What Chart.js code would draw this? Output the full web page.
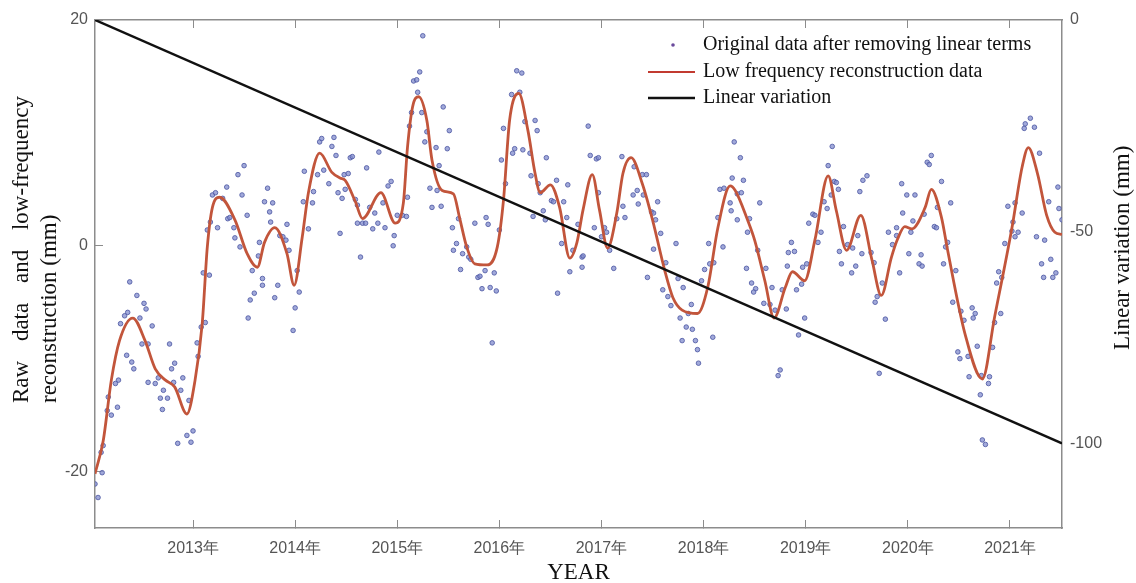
<!DOCTYPE html>
<html>
<head>
<meta charset="utf-8">
<script src="https://cdn.jsdelivr.net/npm/chart.js@4"></script>
<style>
  html, body { margin: 0; padding: 0; background: #fff; }
  canvas { display: block; }
</style>
</head>
<body>
<canvas id="chart" width="1136" height="583"></canvas>
<script>
// tick labels
const yearTicks = [2013, 2014, 2015, 2016, 2017, 2018, 2019, 2020, 2021];
const leftTicks = [20, 0, -20];
const rightTicks = [0, -50, -100];

// original data after removing linear terms (year, mm)
const scatterYears = [
  2012.07, 2012.04, 2012.11, 2012.12, 2012.10, 2012.17, 2012.16, 2012.26, 2012.20, 2012.27, 2012.24, 2012.29,
  2012.33, 2012.36, 2012.38, 2012.45, 2012.52, 2012.54, 2012.48, 2012.60, 2012.35, 2012.40, 2012.42, 2012.50,
  2012.56, 2012.56, 2012.63, 2012.66, 2012.71, 2012.68, 2012.75, 2012.70, 2012.77, 2012.79, 2012.82, 2012.81,
  2012.88, 2012.90, 2012.85, 2012.94, 2013.00, 2012.98, 2012.96, 2013.04, 2013.05, 2013.08, 2013.12, 2013.10,
  2013.16, 2013.14, 2013.17, 2013.19, 2013.22, 2013.24, 2013.29, 2013.33, 2013.34, 2013.36, 2013.40, 2013.41,
  2013.46, 2013.44, 2013.50, 2013.48, 2013.53, 2013.58, 2013.56, 2013.60, 2013.54, 2013.65, 2013.64, 2013.68,
  2013.68, 2013.70, 2013.73, 2013.78, 2013.75, 2013.76, 2013.83, 2013.80, 2013.85, 2013.88, 2013.91, 2013.92,
  2013.94, 2014.02, 2014.04, 2014.00, 2013.98, 2014.09, 2014.08, 2014.13, 2014.17, 2014.18, 2014.22, 2014.24,
  2014.26, 2014.28, 2014.33, 2014.36, 2014.38, 2014.40, 2014.42, 2014.44, 2014.46, 2014.49, 2014.48, 2014.52,
  2014.54, 2014.56, 2014.59, 2014.61, 2014.61, 2014.64, 2014.66, 2014.69, 2014.70, 2014.73, 2014.76, 2014.78,
  2014.81, 2014.82, 2014.86, 2014.88, 2014.91, 2014.94, 2014.97, 2014.96, 2015.00, 2015.05, 2015.09, 2015.10,
  2015.12, 2015.14, 2015.16, 2015.20, 2015.22, 2015.25, 2015.27, 2015.19, 2015.24, 2015.29, 2015.45, 2015.51,
  2015.49, 2015.38, 2015.41, 2015.32, 2015.39, 2015.34, 2015.43, 2015.54, 2015.60, 2015.58, 2015.55, 2015.64,
  2015.62, 2015.70, 2015.72, 2015.68, 2015.76, 2015.79, 2015.81, 2015.83, 2015.86, 2015.87, 2015.89, 2015.91,
  2015.95, 2015.97, 2015.93, 2016.00, 2016.02, 2016.04, 2016.06, 2016.12, 2016.13, 2016.15, 2016.17, 2016.22,
  2016.20, 2016.23, 2016.25, 2016.30, 2016.35, 2016.37, 2016.31, 2016.38, 2016.40, 2016.43, 2016.33, 2016.46,
  2016.45, 2016.51, 2016.53, 2016.56, 2016.63, 2016.66, 2016.67, 2016.61, 2016.57, 2016.69, 2016.72, 2016.77,
  2016.81, 2016.82, 2016.87, 2016.89, 2016.95, 2016.97, 2016.97, 2016.93, 2017.03, 2017.05, 2017.00, 2017.08,
  2017.12, 2016.81, 2017.20, 2017.23, 2017.21, 2017.15, 2017.32, 2017.31, 2017.35, 2017.36, 2017.40, 2017.44,
  2017.41, 2017.49, 2017.51, 2017.53, 2017.55, 2017.58, 2017.51, 2017.45, 2017.63, 2017.73, 2017.60, 2017.65,
  2017.68, 2017.75, 2017.80, 2017.77, 2017.85, 2017.88, 2017.83, 2017.89, 2017.79, 2017.92, 2017.94, 2017.95,
  2018.09, 2017.98, 2018.01, 2018.06, 2018.10, 2018.05, 2018.14, 2018.19, 2018.16, 2018.20, 2018.28, 2018.30,
  2018.36, 2018.26, 2018.27, 2018.33, 2018.37, 2018.39, 2018.33, 2018.55, 2018.45, 2018.43, 2018.53, 2018.42,
  2018.47, 2018.51, 2018.49, 2018.61, 2018.67, 2018.59, 2018.65, 2018.70, 2018.77, 2018.81, 2018.99, 2018.93,
  2018.75, 2018.73, 2018.82, 2018.83, 2018.86, 2018.89, 2018.91, 2018.96, 2018.97, 2019.01, 2019.03, 2019.07,
  2019.09, 2019.12, 2019.15, 2019.18, 2019.21, 2019.22, 2019.26, 2019.25, 2019.28, 2019.30, 2019.32, 2019.37,
  2019.33, 2019.35, 2019.41, 2019.46, 2019.51, 2019.45, 2019.49, 2019.55, 2019.53, 2019.56, 2019.60, 2019.64,
  2019.67, 2019.70, 2019.68, 2019.75, 2019.78, 2019.72, 2019.81, 2019.85, 2019.89, 2019.92, 2019.95, 2019.94,
  2019.89, 2019.99, 2020.07, 2020.01, 2020.03, 2020.05, 2020.13, 2020.11, 2020.14, 2020.16, 2020.19, 2020.21,
  2020.23, 2020.33, 2020.26, 2020.28, 2020.29, 2020.42, 2020.39, 2020.37, 2020.35, 2020.47, 2020.44, 2020.52,
  2020.55, 2020.63, 2020.66, 2020.64, 2020.68, 2020.49, 2020.51, 2020.59, 2020.60, 2020.72, 2020.80, 2020.79,
  2020.71, 2020.73, 2020.76, 2020.83, 2020.85, 2020.91, 2020.87, 2020.89, 2020.92, 2020.95, 2020.98, 2021.03,
  2021.02, 2021.05, 2021.08, 2021.12, 2021.05, 2021.14, 2021.15, 2021.20, 2021.24, 2021.29, 2021.26, 2021.34,
  2021.31, 2021.33, 2021.40, 2021.42, 2021.45, 2021.38, 2021.47, 2021.48, 2021.51
];
const scatterValues = [
  -22.3, -21.1, -20.1, -17.7, -18.3, -13.4, -14.6, -14.3, -15.0, -11.9, -12.2, -6.9,
  -6.2, -5.9, -3.2, -4.4, -5.1, -5.6, -6.4, -7.1, -9.7, -10.3, -10.9, -8.7,
  -8.7, -12.1, -12.2, -11.7, -12.8, -13.5, -13.5, -14.5, -8.7, -10.9, -10.4, -12.1,
  -12.8, -11.7, -17.5, -16.8, -16.4, -17.4, -13.7, -8.6, -9.8, -7.2, -6.8, -2.4,
  -2.6, 1.4, 2.1, 4.5, 4.7, 1.6, 4.2, 5.2, 2.4, 2.5, 1.6, 0.7,
  -0.1, 6.3, 7.1, 4.5, 2.7, -2.2, -4.8, -4.2, -6.4, 0.3, -0.9, -2.9,
  -3.5, 3.9, 5.1, 3.8, 3.0, 2.1, -3.5, -4.6, 0.9, 0.8, 0.5, 1.9,
  -0.4, -2.2, -4.1, -5.5, -7.5, 6.6, 3.9, 1.5, 3.8, 4.8, 6.3, 9.2,
  9.5, 6.7, 5.5, 8.8, 9.6, 8.0, 4.7, 1.1, 4.2, 5.0, 6.3, 6.4,
  7.8, 7.9, 4.1, 3.6, 2.0, -1.0, 2.0, 2.0, 6.9, 3.4, 1.5, 2.9,
  2.0, 8.3, 3.8, 1.6, 5.3, 5.7, 0.9, 0.0, 2.7, 2.7, 2.6, 4.3,
  10.6, 11.8, 14.6, 13.6, 15.4, 18.6, 9.2, 14.7, 11.8, 10.1, 12.3, 10.2,
  8.6, 8.7, 7.1, 5.1, 4.9, 3.4, 3.5, 1.6, 2.4, 0.2, -0.4, -0.7,
  -2.1, -1.0, -1.2, -0.1, 2.0, -2.8, -2.7, -3.8, -2.2, 2.5, 1.9, -3.7,
  -2.4, -4.0, -8.6, 1.4, 7.6, 10.4, 5.5, 13.4, 8.2, 8.6, 15.5, 15.3,
  13.6, 8.5, 11.0, 8.2, 11.1, 10.2, 6.2, 5.5, 4.7, 3.1, 2.6, 7.8,
  2.3, 4.0, 3.9, 5.8, 3.9, 2.5, 5.4, 0.2, -4.2, -2.3, -0.4, 1.9,
  -1.0, -0.9, 10.6, 8.0, 7.7, 7.8, 4.7, 1.6, 1.6, 1.2, 0.8, -0.4,
  -2.0, -1.9, 7.9, 2.5, 3.5, 2.4, 7.0, 4.5, 4.9, 3.7, 6.3, 6.3,
  4.5, 3.0, 2.9, 2.3, 3.9, 1.1, -0.3, -2.8, -1.5, 0.2, -3.9, -4.5,
  -5.3, -2.9, -3.7, -6.4, -6.0, -5.2, -7.2, -7.4, -8.4, -8.4, -9.2, -10.4,
  -8.1, -3.1, -2.1, -1.6, -1.5, 0.2, 2.5, -0.1, 5.0, 5.1, 6.0, 9.2,
  7.8, 3.8, 3.1, 2.3, 4.7, 5.8, 4.6, 3.8, 2.4, 1.2, -0.4, -2.0,
  -3.3, -3.8, -4.1, -2.0, -3.7, -5.1, -5.2, -5.7, -3.9, -5.6, -6.4, -7.9,
  -11.0, -11.5, -1.8, -0.6, 0.3, -0.5, -3.9, -3.4, -1.9, -1.6, 2.0, 2.8,
  2.7, 0.3, 1.2, 3.9, 3.3, 7.1, 8.8, 4.5, 5.7, 5.6, 5.0, 1.7,
  -0.5, -1.6, 0.1, -0.2, 0.9, -2.4, -1.8, -0.7, 4.8, 5.8, 6.2, -0.6,
  -1.5, -4.5, -5.0, -3.3, -6.5, -11.3, 1.2, 0.1, 1.6, -2.4, 2.9, 5.5,
  0.9, 4.5, 4.5, -0.7, 1.2, 2.2, -0.8, -1.6, -1.8, 2.8, 7.4, 7.2,
  8.0, 5.7, 1.7, 1.6, 3.4, 3.8, 0.3, -0.1, -1.6, -2.2, -5.0, -5.8,
  -6.6, -5.5, -6.0, -6.4, -8.9, -9.4, -10.0, -9.8, -11.6, -11.5, -11.6, -12.2,
  -13.2, -17.2, -17.6, -9.0, -6.8, -6.0, -3.3, -2.3, -2.8, 0.2, 3.5, 2.1,
  1.3, 0.8, 1.2, 2.9, 3.8, 10.4, 10.8, 11.3, 10.5, 8.2, 0.8, 0.5,
  -1.6, -2.8, -1.2, -2.8, -2.4, 3.9, 5.2, 3.3, 2.3
];

// low frequency reconstruction (year, mm)
const curveYears = [
  2012.04, 2012.12, 2012.20, 2012.28, 2012.41, 2012.53, 2012.63, 2012.73, 2012.82, 2012.94, 2013.02, 2013.09,
  2013.14, 2013.19, 2013.26, 2013.41, 2013.53, 2013.63, 2013.70, 2013.80, 2013.92, 2013.99, 2014.07, 2014.13,
  2014.24, 2014.36, 2014.44, 2014.49, 2014.59, 2014.66, 2014.84, 2014.98, 2015.06, 2015.10, 2015.15, 2015.21,
  2015.29, 2015.34, 2015.44, 2015.55, 2015.61, 2015.68, 2015.76, 2015.88, 2015.98, 2016.04, 2016.10, 2016.19,
  2016.28, 2016.35, 2016.40, 2016.50, 2016.59, 2016.69, 2016.76, 2016.82, 2016.91, 2016.98, 2017.06, 2017.15,
  2017.21, 2017.29, 2017.40, 2017.50, 2017.62, 2017.70, 2017.79, 2017.94, 2018.04, 2018.14, 2018.26, 2018.31,
  2018.43, 2018.50, 2018.60, 2018.69, 2018.80, 2018.87, 2018.99, 2019.09, 2019.22, 2019.30, 2019.40, 2019.54,
  2019.65, 2019.74, 2019.84, 2019.90, 2019.97, 2020.04, 2020.17, 2020.23, 2020.33, 2020.39, 2020.56, 2020.73,
  2020.85, 2021.02, 2021.12, 2021.18, 2021.27, 2021.36, 2021.44, 2021.51
];
const curveValues = [
  -20.2, -17.3, -11.9, -8.4, -6.4, -8.4, -10.9, -11.9, -12.5, -14.9, -11.9, -6.9,
  -0.1, 3.4, 4.3, 2.3, -0.7, -1.9, 0.3, 1.6, -0.7, -3.5, 0.8, 4.7,
  8.2, 6.5, 6.0, 5.8, 3.9, 2.4, 4.7, 2.0, 3.8, 8.7, 12.3, 13.2,
  11.1, 7.6, 4.9, 4.6, 2.5, -0.1, -1.6, -1.7, -0.1, 4.0, 11.1, 13.5,
  10.2, 6.4, 4.7, 5.4, 3.4, -1.1, 0.3, 3.2, 6.3, 3.2, -0.2, 2.9,
  6.4, 7.8, 5.5, 2.3, -2.2, -4.6, -5.7, -6.0, -3.7, 1.6, 5.3, 4.9,
  2.3, 0.5, -3.1, -6.4, -3.7, -2.3, -3.1, 0.5, 6.2, 3.1, -0.4, 2.7,
  -1.3, -4.4, -1.0, 0.6, 1.7, 1.5, 3.4, 5.0, 2.5, -0.4, -7.8, -11.8,
  -6.3, 1.6, 7.0, 8.7, 6.4, 2.7, 1.2, 1.0
];

// linear variation, right axis (year, mm)
const linearYears = [2012.04, 2021.51];
const linearValues = [0, -100];

const serif = "'Liberation Serif', 'Times New Roman', serif";
const sans = "'Liberation Sans', Arial, sans-serif";
const axisGrey = '#8c8c8c';
const tickGrey = '#555555';

function toPoints(xs, ys) {
    return xs.map((x, i) => ({ x: x, y: ys[i] }));
}

// y titles read bottom to top on both sides, and the legend sits inside the plot,
// so they are drawn here by hand
const extras = {
    id: 'extras',
    afterDraw(chart) {
        const ctx = chart.ctx;
        const area = chart.chartArea;
        ctx.save();
        ctx.fillStyle = '#111';
        ctx.textBaseline = 'middle';
        ctx.textAlign = 'left';

        // left title, first line justified like in the paper
        ctx.font = '23px ' + serif;
        ctx.save();
        ctx.translate(22, 403);
        ctx.rotate(-Math.PI / 2);
        const words = ['Raw', 'data', 'and', 'low-frequency'];
        const wordsWidth = words.reduce((s, w) => s + ctx.measureText(w).width, 0);
        const gap = (307 - wordsWidth) / (words.length - 1);
        let pos = 0;
        for (const w of words) {
            ctx.fillText(w, pos, 0);
            pos += ctx.measureText(w).width + gap;
        }
        ctx.fillText('reconstruction (mm)', 0, 28);
        ctx.restore();

        // right title
        ctx.save();
        ctx.translate(1123, 350);
        ctx.rotate(-Math.PI / 2);
        ctx.fillText('Linear variation (mm)', 0, 0);
        ctx.restore();

        // legend
        const textX = area.right - 359;
        const rowY = [area.top + 25, area.top + 52, area.top + 78];
        ctx.font = '20px ' + serif;
        ctx.fillText('Original data after removing linear terms', textX, rowY[0]);
        ctx.fillText('Low frequency reconstruction data', textX, rowY[1]);
        ctx.fillText('Linear variation', textX, rowY[2]);

        ctx.fillStyle = '#6a4a9c';
        ctx.beginPath();
        ctx.arc(textX - 30, rowY[0], 1.8, 0, Math.PI * 2);
        ctx.fill();

        ctx.lineWidth = 2;
        ctx.strokeStyle = '#c23a30';
        ctx.beginPath();
        ctx.moveTo(textX - 55, rowY[1]);
        ctx.lineTo(textX - 8, rowY[1]);
        ctx.stroke();

        ctx.lineWidth = 2.5;
        ctx.strokeStyle = '#111';
        ctx.beginPath();
        ctx.moveTo(textX - 55, rowY[2]);
        ctx.lineTo(textX - 8, rowY[2]);
        ctx.stroke();

        ctx.restore();
    }
};

const xMin = linearYears[0];
const xMax = linearYears[linearYears.length - 1];
const tickFont = { family: sans, size: 16 };

// fixed sizes so the plot box lands where it is in the figure
function fixWidth(w) {
    return (s) => { s.width = w; s.paddingTop = 8; s.paddingBottom = 8; };
}

const ctx = document.getElementById('chart').getContext('2d');
const myChart = new Chart(ctx, {
    type: 'scatter',
    data: {
        datasets: [
            {
                label: 'Linear variation',
                data: toPoints(linearYears, linearValues),
                yAxisID: 'y2',
                showLine: true,
                borderColor: '#111111',
                borderWidth: 2.5,
                pointRadius: 0
            },
            {
                label: 'Low frequency reconstruction data',
                data: toPoints(curveYears, curveValues),
                yAxisID: 'y',
                showLine: true,
                cubicInterpolationMode: 'monotone',
                borderColor: '#c2553b',
                borderWidth: 2.8,
                pointRadius: 0
            },
            {
                label: 'Original data after removing linear terms',
                data: toPoints(scatterYears, scatterValues),
                yAxisID: 'y',
                showLine: false,
                pointRadius: 2.3,
                pointBackgroundColor: 'rgba(130, 140, 205, 0.75)',
                pointBorderColor: 'rgba(80, 90, 165, 0.85)',
                pointBorderWidth: 1
            }
        ]
    },
    options: {
        responsive: false,
        animation: false,
        layout: { padding: 0 },
        plugins: {
            legend: { display: false },
            tooltip: { enabled: false }
        },
        scales: {
            x: {
                type: 'linear',
                position: 'bottom',
                min: xMin,
                max: xMax,
                afterBuildTicks: (s) => { s.ticks = yearTicks.map(v => ({ value: v })); },
                afterFit: (s) => { s.height = 55; },
                ticks: {
                    callback: (v) => v + '年',
                    color: tickGrey,
                    font: tickFont,
                    padding: 19,
                    maxRotation: 0,
                    autoSkip: false
                },
                grid: { drawOnChartArea: false, tickLength: -8, color: axisGrey },
                border: { color: axisGrey, width: 1.5 },
                title: {
                    display: true,
                    text: 'YEAR',
                    color: '#111',
                    font: { family: serif, size: 23, lineHeight: 1 },
                    padding: { top: 0, bottom: -1 }
                }
            },
            xTop: {
                type: 'linear',
                position: 'top',
                min: xMin,
                max: xMax,
                afterBuildTicks: (s) => { s.ticks = yearTicks.map(v => ({ value: v })); },
                afterFit: (s) => { s.height = 20; },
                ticks: { display: false },
                grid: { drawOnChartArea: false, tickLength: -8, color: axisGrey },
                border: { color: axisGrey, width: 1.5 }
            },
            y: {
                position: 'left',
                min: -25,
                max: 20,
                afterBuildTicks: (s) => { s.ticks = leftTicks.map(v => ({ value: v })); },
                afterFit: fixWidth(95),
                ticks: { color: tickGrey, font: tickFont, padding: 15 },
                grid: { drawOnChartArea: false, tickLength: -8, color: axisGrey },
                border: { color: axisGrey, width: 1.5 }
            },
            y2: {
                position: 'right',
                min: -120,
                max: 0,
                afterBuildTicks: (s) => { s.ticks = rightTicks.map(v => ({ value: v })); },
                afterFit: fixWidth(74),
                ticks: { color: tickGrey, font: tickFont, padding: 8 },
                grid: { drawOnChartArea: false, drawTicks: false },
                border: { color: axisGrey, width: 1.5 }
            }
        }
    },
    plugins: [extras]
});
</script>
</body>
</html>
